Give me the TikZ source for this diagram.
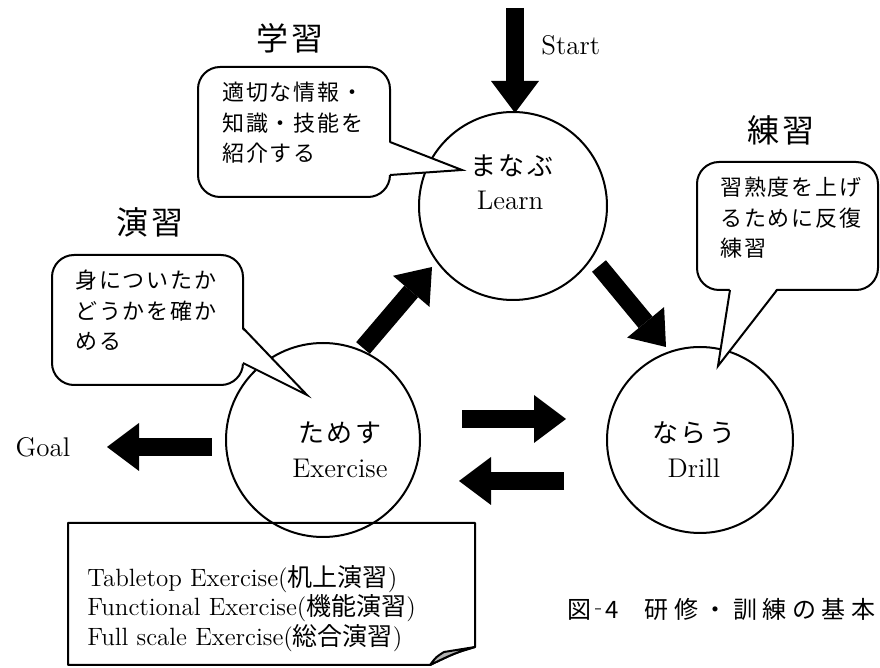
\documentclass[tikz,border=0pt]{standalone}
\usepackage{fontspec}
\usetikzlibrary{arrows.meta}
\newfontfamily\jp{Noto Sans CJK JP}
\newfontfamily\jpsp{Noto Sans CJK JP}[LetterSpace=8]
\newfontfamily\jpwide{Noto Sans CJK JP}[LetterSpace=9]
\newfontfamily\jptitle{Noto Sans CJK JP}[LetterSpace=8]
\newfontfamily\jpcap{Noto Sans CJK JP}[LetterSpace=23]
\begin{document}
\begin{tikzpicture}[x=0.5pt,y=-0.5pt,
  circ/.style={circle,draw,line width=1pt,inner sep=0pt},
  blk/.style={line width=9pt,-{Triangle[width=24pt,length=16pt,line width=0pt]}},
  callout/.style={draw,fill=white,line width=1pt,rounded corners=11pt,inner sep=0pt},
  ptr/.style={line width=1pt,line join=miter},
  cotext/.style={font=\jpsp\fontsize{11pt}{15.2pt}\selectfont,align=left,anchor=north west,inner sep=0pt},
  ttl/.style={font=\jptitle\fontsize{16pt}{18pt}\selectfont,inner sep=0pt},
  lbl/.style={font=\fontsize{13.5pt}{16pt}\selectfont,inner sep=0pt},
  jlbl/.style={font=\jpwide\fontsize{13pt}{15pt}\selectfont,inner sep=0pt},
]
\useasboundingbox (0,0) rectangle (880,668);

% bottom note box
\draw[line width=1pt,fill=white,line join=round] (68,523) -- (475,523) -- (475,647) .. controls (455,653) .. (430,665) -- (68,665) -- cycle;
\filldraw[fill=black!30,line width=1pt,line join=round] (430,665) .. controls (436,657) .. (444,652) -- (475,647) .. controls (455,653) .. (430,665);
\node[anchor=north west,align=left,inner sep=0pt,font=\fontsize{12.5pt}{14.8pt}\selectfont] (notes) at (87,565)
  {Tabletop Exercise({\jp 机上演習})\\Functional Exercise({\jp 機能演習})\\Full scale Exercise({\jp 総合演習})};

% circles
\node[circ,minimum size=94pt] (learn) at (513,206) {};
\node[circ,minimum size=97pt] (exer) at (323,440) {};
\node[circ,minimum size=93pt] (drill) at (700,440) {};

\node[jlbl] (learnj) at (512,166) {まなぶ};
\node[lbl] (learnl) at (510,200) {Learn};
\node[jlbl] (exj) at (340,433) {ためす};
\node[lbl] (exl) at (340,468) {Exercise};
\node[jlbl] (drj) at (694,433) {ならう};
\node[lbl] (drl) at (694,468) {Drill};

% callout 1 (学習)
\node[callout,minimum width=96pt,minimum height=65pt] (c1) at (294,132) {};
\coordinate (t1) at (462,170);
\fill[white] (388,142) -- (t1) -- (388,175) -- cycle;
\draw[ptr] (390,142) -- (t1) -- (390,175);
\node[cotext] (c1t) at (222,82) {適切な情報・\\知識・技能を\\紹介する};

% callout 2 (練習)
\node[callout,minimum width=90.5pt,minimum height=64pt] (c2) at (787.5,226) {};
\coordinate (t2) at (718,366);
\fill[white] (730,288) -- (t2) -- (777,288) -- cycle;
\draw[ptr] (730,290) -- (t2) -- (777,290);
\node[cotext] (c2t) at (720,177) {習熟度を上げ\\るために反復\\練習};

% callout 3 (演習)
\node[callout,minimum width=95.5pt,minimum height=65pt] (c3) at (147.5,320) {};
\coordinate (t3) at (307,395);
\fill[white] (241,328) -- (t3) -- (241,363) -- cycle;
\draw[ptr] (243,328) -- (t3) -- (243,363);
\node[cotext] (c3t) at (75,270) {身についたか\\どうかを確か\\める};

% titles
\node[ttl] (tt1) at (290,38) {学習};
\node[ttl] (tt2) at (150,222) {演習};
\node[ttl] (tt3) at (781,130) {練習};

% block arrows
\coordinate (s0) at (515,8);   \coordinate (s1) at (515,113);
\coordinate (g0) at (212,447); \coordinate (g1) at (107,447);
\coordinate (r0) at (462,419); \coordinate (r1) at (566,419);
\coordinate (l0) at (564,481); \coordinate (l1) at (459,481);
\coordinate (u0) at (363,348); \coordinate (u1) at (432,267);
\coordinate (d0) at (599,266); \coordinate (d1) at (666,347);
\draw[blk] (s0) -- (s1);
\draw[blk] (g0) -- (g1);
\draw[blk] (r0) -- (r1);
\draw[blk] (l0) -- (l1);
\draw[blk] (u0) -- (u1);
\draw[blk] (d0) -- (d1);

\node[lbl,anchor=west] (start) at (541,45) {Start};
\node[lbl] (goal) at (43,447) {Goal};

% caption
\node[anchor=west,inner sep=0pt,font=\jp\fontsize{12pt}{14pt}\selectfont] (cap) at (567,609) {図\kern-2.5pt‐\kern-2.5pt4\hspace{13pt}{\jpcap 研修・訓練の基本}};
\end{tikzpicture}
\end{document}
